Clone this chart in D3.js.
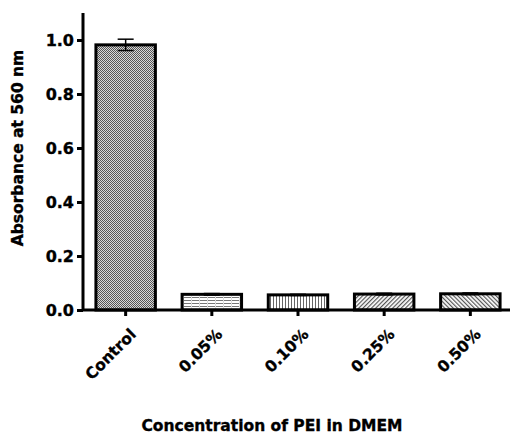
<!DOCTYPE html>
<html>
<head>
<meta charset="utf-8">
<script src="https://cdn.jsdelivr.net/npm/d3@7"></script>
<style>
  body { margin: 0; background: #fff; }
  text { font-family: "DejaVu Sans", "Liberation Sans", Arial, sans-serif; font-weight: bold; stroke: #000; stroke-width: 0.35px; }
</style>
</head>
<body>
<div id="chart"></div>
<script>
const categories = ["Control", "0.05%", "0.10%", "0.25%", "0.50%"];
const means = [0.982, 0.058, 0.056, 0.059, 0.060];
const errors = [0.021, 0.003, 0.002, 0.003, 0.003];
const patterns = ["checker", "hlines", "vlines", "diagUp", "diagDown"];
const yTicks = [0.0, 0.2, 0.4, 0.6, 0.8, 1.0];

const width = 510, height = 434;

const svg = d3.select("#chart")
    .append("svg")
    .attr("width", width)
    .attr("height", height);

// Fill patterns for the bars
const defs = svg.append("defs");

const checker = defs.append("pattern")
    .attr("id", "checker")
    .attr("patternUnits", "userSpaceOnUse")
    .attr("width", 2).attr("height", 2);
checker.append("rect").attr("width", 2).attr("height", 2).attr("fill", "#d8d8d8");
checker.append("rect").attr("width", 1).attr("height", 1).attr("fill", "#555");
checker.append("rect").attr("x", 1).attr("y", 1).attr("width", 1).attr("height", 1).attr("fill", "#555");

const hl = defs.append("pattern")
    .attr("id", "hlines")
    .attr("patternUnits", "userSpaceOnUse")
    .attr("width", 8).attr("height", 3);
hl.append("rect").attr("width", 8).attr("height", 3).attr("fill", "#fff");
hl.append("rect").attr("y", 0).attr("width", 8).attr("height", 1).attr("fill", "#777");
hl.append("rect").attr("x", 7).attr("width", 1).attr("height", 3).attr("fill", "#ddd");

const vl = defs.append("pattern")
    .attr("id", "vlines")
    .attr("patternUnits", "userSpaceOnUse")
    .attr("width", 3).attr("height", 3);
vl.append("rect").attr("width", 3).attr("height", 3).attr("fill", "#fff");
vl.append("rect").attr("width", 1).attr("height", 3).attr("fill", "#666");

[["diagUp", 45], ["diagDown", -45]].forEach(([id, ang]) => {
    const p = defs.append("pattern")
        .attr("id", id)
        .attr("patternUnits", "userSpaceOnUse")
        .attr("width", 3).attr("height", 3)
        .attr("patternTransform", `rotate(${ang})`);
    p.append("rect").attr("width", 3).attr("height", 3).attr("fill", "#fff");
    p.append("rect").attr("width", 1.2).attr("height", 3).attr("fill", "#555");
});

// Scales
const x = d3.scaleBand()
    .domain(categories)
    .range([83, 513])
    .paddingInner(0.31)
    .paddingOuter(0.15);

const y = d3.scaleLinear()
    .domain([0, 1.1])
    .range([310, 13]);

// Bars
svg.selectAll(".bar")
    .data(categories)
    .join("rect")
    .attr("class", "bar")
    .attr("x", d => x(d))
    .attr("width", x.bandwidth())
    .attr("y", (d, i) => y(means[i]))
    .attr("height", (d, i) => y(0) - y(means[i]))
    .attr("fill", (d, i) => `url(#${patterns[i]})`)
    .attr("stroke", "#000")
    .attr("stroke-width", 3);

// Error bars (upper and lower)
const eb = svg.selectAll(".err")
    .data(categories)
    .join("g")
    .attr("class", "err")
    .attr("stroke", "#000")
    .attr("stroke-width", 1.5);
eb.append("line")
    .attr("x1", d => x(d) + x.bandwidth() / 2)
    .attr("x2", d => x(d) + x.bandwidth() / 2)
    .attr("y1", (d, i) => y(means[i] + errors[i]))
    .attr("y2", (d, i) => y(means[i] - errors[i]));
eb.append("line")
    .attr("x1", d => x(d) + x.bandwidth() / 2 - 8)
    .attr("x2", d => x(d) + x.bandwidth() / 2 + 8)
    .attr("y1", (d, i) => y(means[i] + errors[i]))
    .attr("y2", (d, i) => y(means[i] + errors[i]));
eb.append("line")
    .attr("x1", d => x(d) + x.bandwidth() / 2 - 8)
    .attr("x2", d => x(d) + x.bandwidth() / 2 + 8)
    .attr("y1", (d, i) => y(means[i] - errors[i]))
    .attr("y2", (d, i) => y(means[i] - errors[i]));

// Y axis
const yAxis = svg.append("g")
    .attr("transform", "translate(83,0)")
    .call(d3.axisLeft(y).tickValues(yTicks).tickFormat(d3.format(".1f")).tickSize(6).tickPadding(3));
yAxis.select(".domain").attr("stroke-width", 3).attr("d", `M0,${y(1.1)}V${y(0)}`);
yAxis.selectAll(".tick line").attr("stroke-width", 3);
yAxis.selectAll(".tick text")
    .style("font-size", "16px")
    .style("font-weight", "bold")
    .attr("fill", "#000");

// X axis
const xAxis = svg.append("g")
    .attr("transform", `translate(0,${y(0)})`)
    .call(d3.axisBottom(x).tickSize(6).tickSizeOuter(0));
xAxis.select(".domain").attr("stroke-width", 3).attr("d", `M83,0H510`);
xAxis.selectAll(".tick line").attr("stroke-width", 3);
xAxis.selectAll(".tick text")
    .style("font-size", "15.5px")
    .style("font-weight", "bold")
    .attr("fill", "#000")
    .attr("text-anchor", "end")
    .attr("dy", "0")
    .attr("transform", "translate(5,19) rotate(-45)");

// Axis titles
svg.append("text")
    .attr("transform", "translate(23,148) rotate(-90)")
    .attr("text-anchor", "middle")
    .style("font-size", "15.5px")
    .text("Absorbance at 560 nm");

svg.append("text")
    .attr("x", 272)
    .attr("y", 431)
    .attr("text-anchor", "middle")
    .style("font-size", "15.5px")
    .text("Concentration of PEI in DMEM");
</script>
</body>
</html>
